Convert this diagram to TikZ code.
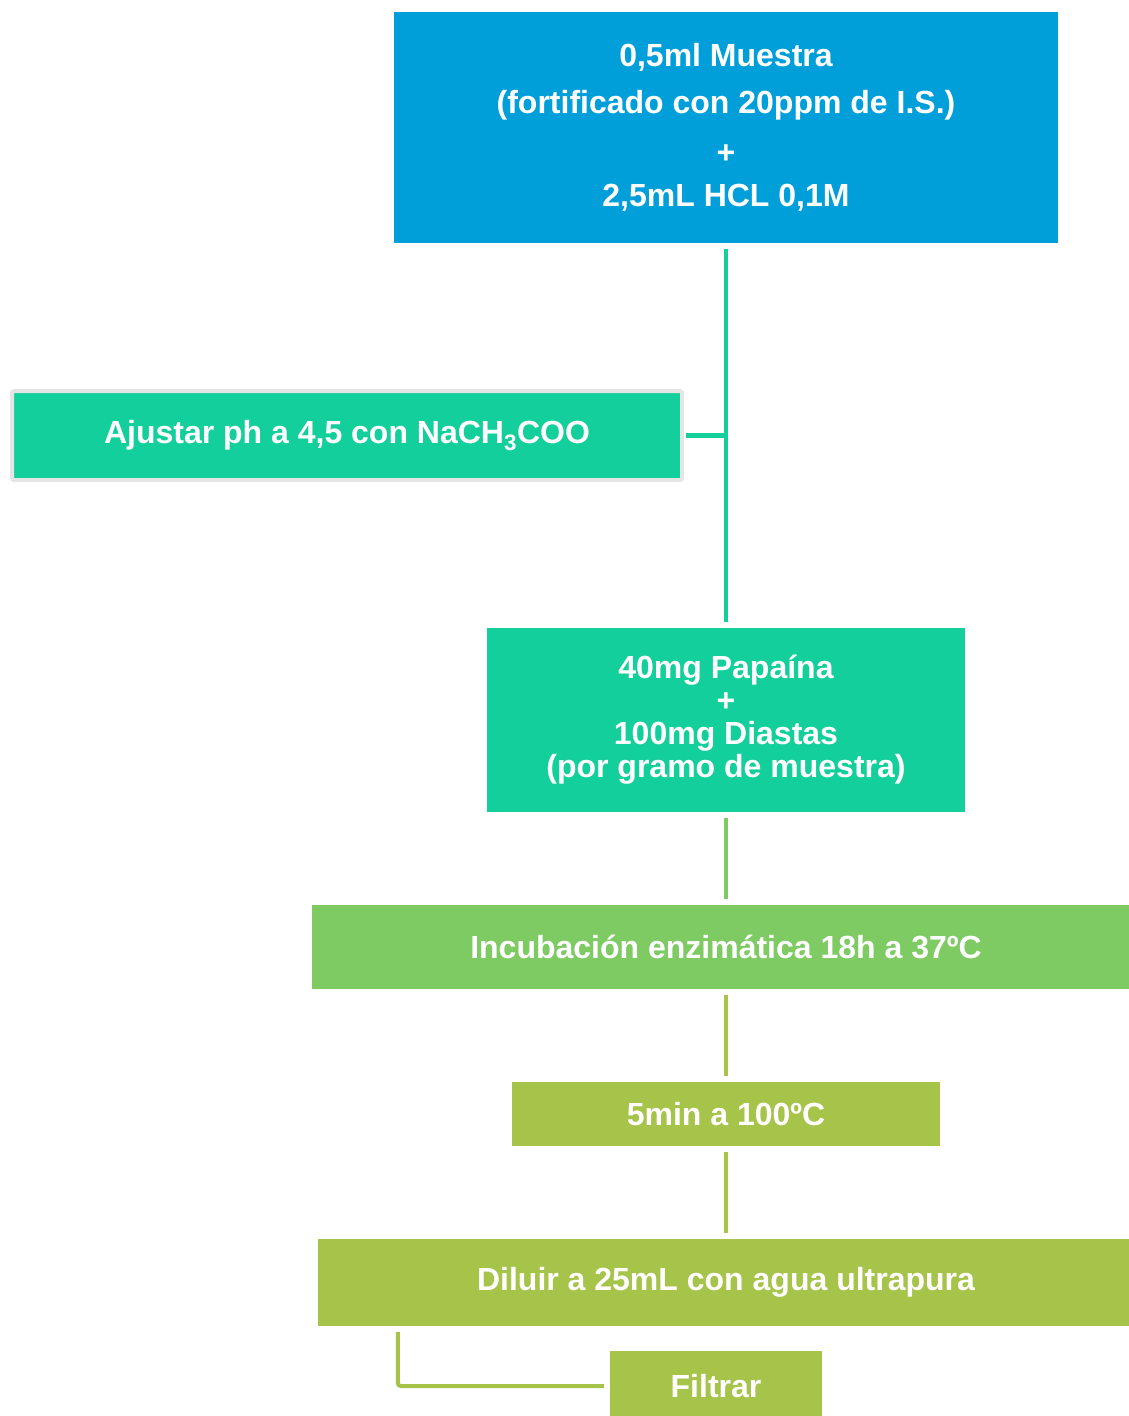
\documentclass[tikz,border=0pt]{standalone}
\usepackage{fontspec}
\setmainfont{Liberation Sans}
\usepackage{tikz}
\usetikzlibrary{positioning}
\definecolor{PRblue}{RGB}{0,159,218}
\definecolor{PRteal}{RGB}{19,207,155}
\definecolor{PRgreen}{RGB}{126,203,99}
\definecolor{PRolive}{RGB}{166,195,74}
\definecolor{PRgray}{RGB}{229,229,229}

\begin{document}
\begin{tikzpicture}[x=1pt,y=-1pt,
    paso/.style={fill=#1, text=white, align=center, inner sep=0pt,
      font=\fontsize{32}{33}\selectfont\bfseries},
    enlace/.style={draw=#1, line width=4.5pt, shorten <=6pt, shorten >=6pt}]
  \useasboundingbox (0,0) rectangle (1128,1416);
  \node[paso=PRblue, minimum width=664, minimum height=231,
        font=\fontsize{32}{46.5}\selectfont\bfseries] (muestra) at (726,127.5)
    {0,5ml Muestra\\(fortificado con 20ppm de I.S.)\\[4pt]+\\[-4pt]2,5mL HCL 0,1M};
  \node[paso=PRteal, draw=PRgray, line width=4pt, rounded corners=2pt,
        minimum width=670, minimum height=89] (ajustar) at (347,435.5)
    {Ajustar ph a 4,5 con NaCH\textsubscript{3}COO};
  \node[paso=PRteal, minimum width=478, minimum height=184] (papaina) at (726,720)
    {40mg Papaína\\+\\100mg Diastas\\(por gramo de muestra)};
  \node[paso=PRgreen, minimum width=828, minimum height=84] (incub) at (726,947)
    {Incubación enzimática 18h a 37ºC};
  \node[paso=PRolive, minimum width=428, minimum height=64] (calor) at (726,1114)
    {5min a 100ºC};
  \node[paso=PRolive, minimum width=816, minimum height=87] (diluir) at (726,1282.5)
    {Diluir a 25mL con agua ultrapura};
  \node[paso=PRolive, minimum width=212, minimum height=70] (filtrar) at (716,1386)
    {Filtrar};

  \draw[enlace=PRteal] (muestra) -- (papaina);
  \draw[enlace=PRteal, shorten <=2pt, shorten >=0pt] (ajustar) -- (ajustar -| muestra);
  \draw[enlace=PRgreen] (papaina) -- (incub);
  \draw[enlace=PRolive] (incub) -- (calor);
  \draw[enlace=PRolive] (calor) -- (diluir);
  \draw[enlace=PRolive, line width=4pt, rounded corners=3pt]
    ([xshift=80pt]diluir.south west) |- (filtrar);
\end{tikzpicture}
\end{document}
